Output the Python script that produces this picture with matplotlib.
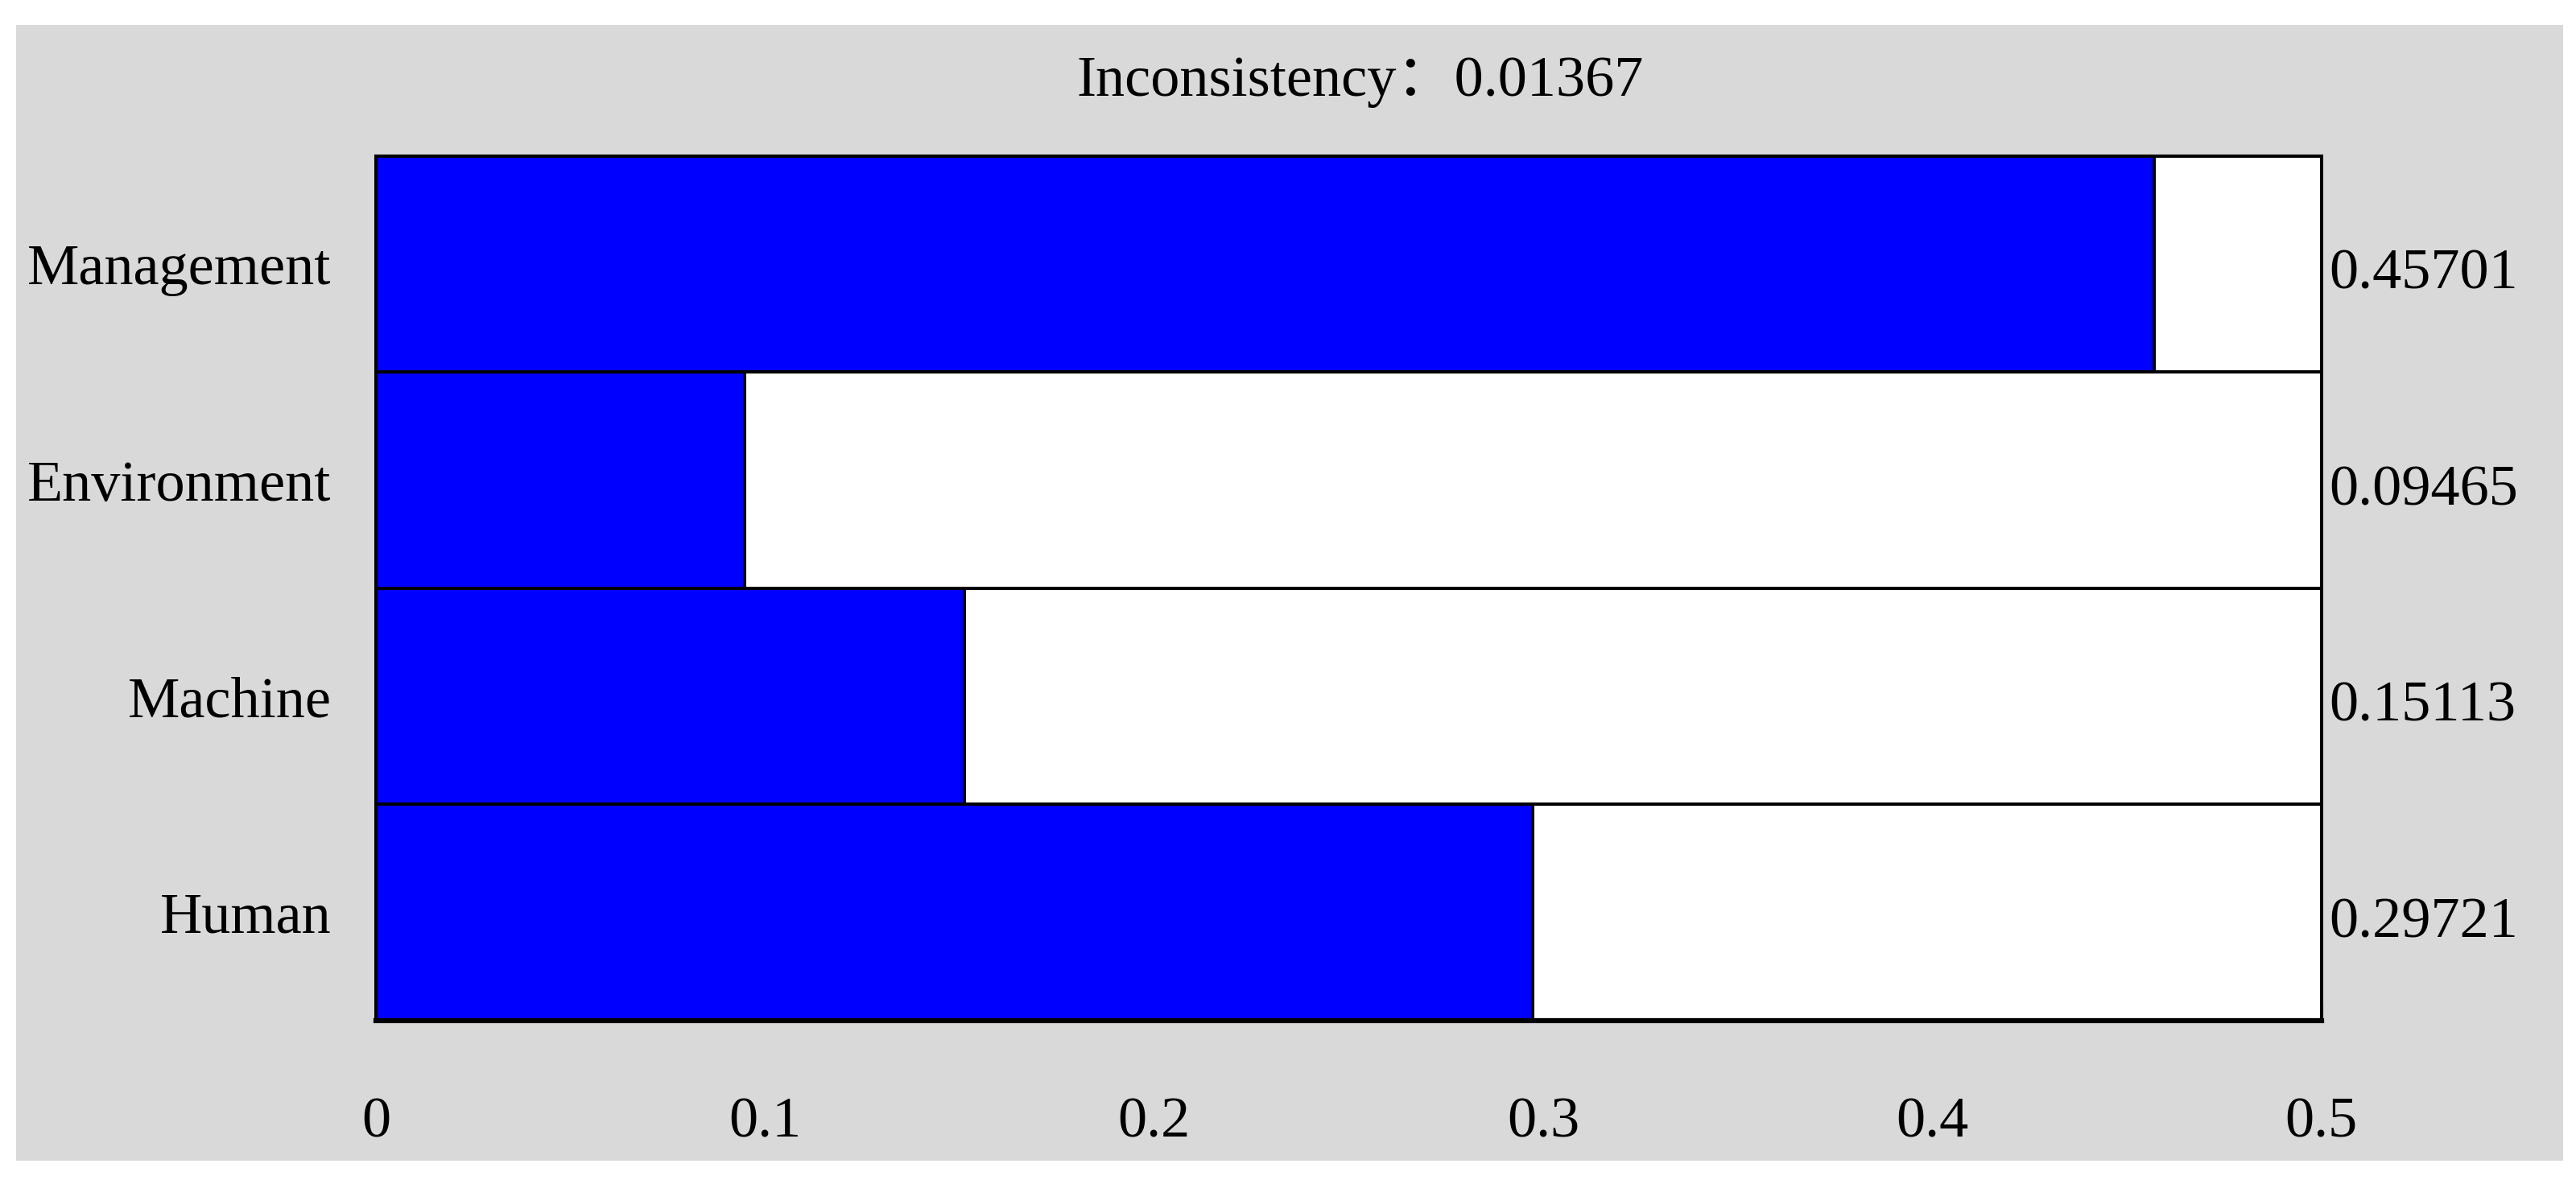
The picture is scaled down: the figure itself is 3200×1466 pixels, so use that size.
import matplotlib
matplotlib.use("Agg")
import matplotlib.pyplot as plt
import matplotlib.transforms as mtransforms

# data (top to bottom in the picture)
factors = ["Management", "Environment", "Machine", "Human"]
weights = [0.45701, 0.09465, 0.15113, 0.29721]
inconsistency = 0.01367
xmax = 0.5
xticks = [0, 0.1, 0.2, 0.3, 0.4, 0.5]
xticklabels = ["0", "0.1", "0.2", "0.3", "0.4", "0.5"]

serif = ["Liberation Serif", "Noto Sans CJK SC", "DejaVu Serif"]
plt.rcParams['font.family'] = serif
fs = 52

fig = plt.figure(figsize=(32, 14.66), dpi=100)
fig.patch.set_facecolor("white")

# gray panel behind everything
bg = fig.add_axes([0.0064, 0.0167, 0.9885, 0.9623])
bg.set_facecolor("#d9d9d9")
bg.set_xticks([]); bg.set_yticks([])
for s in bg.spines.values():
    s.set_visible(False)

ax = fig.add_axes([0.1460, 0.1351, 0.7551, 0.7326])
ax.set_facecolor("white")

ypos = list(range(len(factors)))[::-1]  # Management at top
ax.barh(ypos, [xmax] * len(factors), height=1.0, color="white", edgecolor="black", linewidth=2.9, zorder=2)
ax.barh(ypos, weights, height=1.0, color="#0000ff", edgecolor="black", linewidth=2.9, zorder=3)

ax.set_xlim(0, xmax)
ax.set_ylim(-0.5, len(factors) - 0.5)

ax.set_xticks(xticks)
ax.set_xticklabels(xticklabels)
ax.tick_params(axis="x", direction="in", length=15, width=2.2, pad=68, labelsize=fs, top=False)
ax.set_yticks(ypos)
ax.set_yticklabels(factors)
ax.tick_params(axis="y", length=0, pad=40, labelsize=fs)

for s in ["top", "right", "left"]:
    ax.spines[s].set_linewidth(2.9)
ax.spines["bottom"].set_linewidth(4.5)
for s in ax.spines.values():
    s.set_zorder(5)

# weight values to the right of the frame
trans = mtransforms.blended_transform_factory(ax.transAxes, ax.transData)
for y, w in zip(ypos, weights):
    ax.text(1.004, y - 0.02, "%.5f" % w, transform=trans, ha="left", va="center_baseline", fontsize=fs)

fig.text(0.528, 0.931, "Inconsistency\uff1a%.5f" % inconsistency, ha="center", va="center", fontsize=fs)

fig.savefig("out.png", dpi=100)
